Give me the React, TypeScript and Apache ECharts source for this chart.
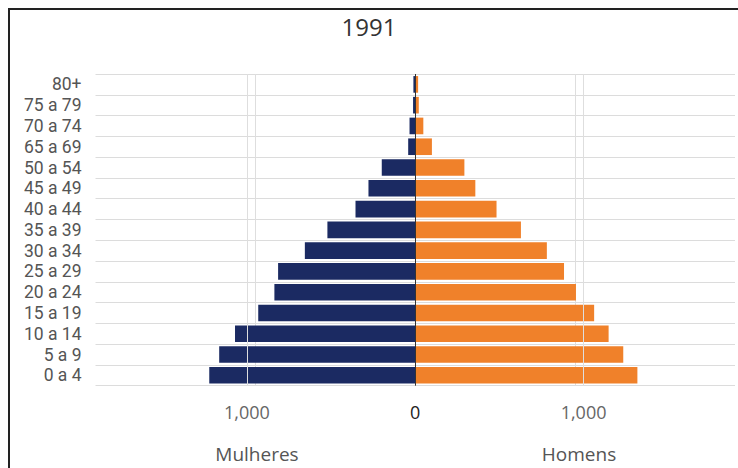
import React, { useEffect, useRef } from "react";
import * as echarts from "echarts";

const title = "1991";
const ageGroups = [
  "0 a 4", "5 a 9", "10 a 14", "15 a 19", "20 a 24", "25 a 29", "30 a 34",
  "35 a 39", "40 a 44", "45 a 49", "50 a 54", "65 a 69", "70 a 74", "75 a 79", "80+",
];
const mulheres = [1224, 1165, 1071, 933, 837, 815, 656, 522, 355, 278, 199, 42, 34, 13, 11];
const homens = [1320, 1236, 1149, 1063, 955, 884, 782, 628, 483, 357, 292, 99, 48, 21, 17];
const tickLabels: Record<number, string> = { [-1000]: "1,000", 0: "0", 1000: "1,000" };
const groupNames = ["Mulheres", "Homens"];

const FONT = "'Open Sans', 'Noto Sans', sans-serif";
const LABEL_FONT = "Roboto, 'Liberation Sans', sans-serif";

export default function App() {
  const ref = useRef<HTMLDivElement>(null);
  useEffect(() => {
    if (!ref.current) return;
    const chart = echarts.init(ref.current, null, { renderer: "svg" });
    chart.setOption({
      animation: false,
      backgroundColor: "#ffffff",
      title: {
        text: title,
        left: "center",
        top: 9,
        textStyle: { fontFamily: FONT, fontSize: 24, fontWeight: "normal", color: "#333333" },
      },
      grid: { left: 95.5, top: 74, width: 644, height: 311.7, containLabel: false },
      xAxis: [
        {
          type: "value",
          min: -1900,
          max: 1900,
          interval: 100,
          axisLine: { show: false },
          axisTick: { show: false },
          splitLine: { show: false },
          axisLabel: {
            margin: 17,
            fontFamily: FONT,
            fontSize: 18,
            color: (v: any) => (Number(v) === 0 ? "#222222" : "#666666"),
            formatter: (v: number) => tickLabels[v] ?? "",
            showMinLabel: true,
            showMaxLabel: true,
          },
        },
        {
          type: "value",
          min: -2000,
          max: 2000,
          interval: 1000,
          position: "bottom",
          axisLine: { show: false },
          axisTick: { show: false },
          axisLabel: { show: false },
          splitLine: {
            show: true,
            showMinLine: false,
            showMaxLine: false,
            lineStyle: { color: "#dedede", width: 1 },
          },
        },
      ],
      yAxis: {
        type: "category",
        data: ageGroups,
        boundaryGap: true,
        axisLine: { show: false, onZero: false },
        axisTick: { show: false },
        splitLine: { show: true, lineStyle: { color: "#dcdcdc", width: 1 } },
        axisLabel: {
          interval: 0,
          margin: 14,
          fontFamily: LABEL_FONT,
          fontSize: 17.5,
          lineHeight: 18,
          color: "#555555",
        },
      },
      series: [
        {
          name: groupNames[0],
          type: "bar",
          xAxisIndex: 0,
          data: mulheres.map((v) => -v),
          itemStyle: { color: "#1b2a62" },
          barCategoryGap: "20%",
          barGap: "-100%",
          markLine: {
            silent: true,
            symbol: ["none", "none"],
            label: { show: false },
            lineStyle: { color: "#dedede", width: 1, type: "solid" },
            data: [{ xAxis: -1000 }, { xAxis: 1000 }],
          },
        },
        {
          name: groupNames[1],
          type: "bar",
          xAxisIndex: 0,
          data: homens,
          itemStyle: { color: "#f0812a" },
          barCategoryGap: "20%",
          barGap: "-100%",
          markLine: {
            silent: true,
            symbol: ["none", "none"],
            label: { show: false },
            lineStyle: { color: "#333333", width: 1, type: "solid" },
            data: [{ xAxis: 0 }],
          },
        },
      ],
      graphic: [
        {
          type: "rect",
          shape: { x: 9, y: 9, width: 740, height: 470 },
          style: { fill: "none", stroke: "#222222", lineWidth: 2 },
          silent: true,
        },
        {
          type: "text",
          x: 257,
          y: 454,
          style: {
            text: groupNames[0],
            fontFamily: FONT,
            fontSize: 19,
            fill: "#555555",
            textAlign: "center",
            textVerticalAlign: "middle",
          },
        },
        {
          type: "text",
          x: 579,
          y: 454,
          style: {
            text: groupNames[1],
            fontFamily: FONT,
            fontSize: 19,
            fill: "#555555",
            textAlign: "center",
            textVerticalAlign: "middle",
          },
        },
      ],
    });
    return () => chart.dispose();
  }, []);
  return (
    <div
      ref={ref}
      style={{ position: "absolute", left: 0, top: 0, width: 738, height: 468, background: "#fff" }}
    />
  );
}
